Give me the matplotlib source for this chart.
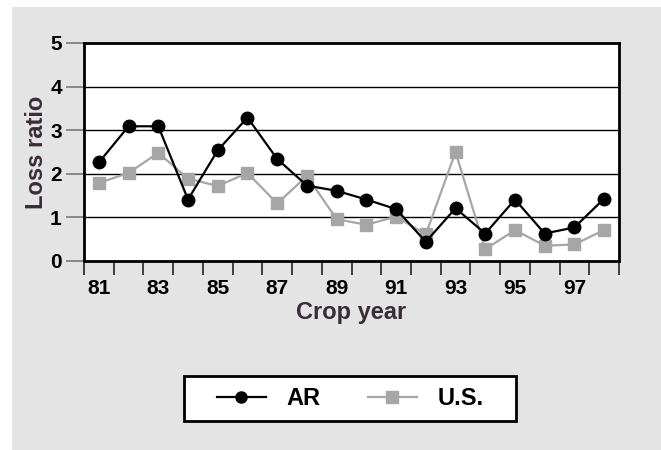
import numpy as np
import matplotlib.pyplot as plt
from matplotlib.lines import Line2D
from matplotlib.patches import Rectangle

plt.rcParams['font.family'] = ['Liberation Sans', 'DejaVu Sans']
plt.rcParams['font.weight'] = 'bold'

years = ['81', '82', '83', '84', '85', '86', '87', '88', '89',
         '90', '91', '92', '93', '94', '95', '96', '97', '98']
ar = [2.26, 3.09, 3.09, 1.41, 2.54, 3.29, 2.34, 1.73, 1.61,
      1.41, 1.19, 0.44, 1.21, 0.63, 1.41, 0.63, 0.77, 1.43]
us = [1.79, 2.02, 2.48, 1.89, 1.72, 2.02, 1.32, 1.95, 0.96,
      0.83, 1.02, 0.61, 2.50, 0.27, 0.71, 0.35, 0.38, 0.71]

label_col = '#3a2b38'
grey = '#a6a6a6'
W, H = 661, 450

fig = plt.figure(figsize=(6.61, 4.5), dpi=100, facecolor='white')

# grey panel behind everything
bg = fig.add_axes([12 / W, 0, 649 / W, 443 / H], zorder=-1)
bg.set_facecolor('#e4e4e4')
bg.set_xticks([])
bg.set_yticks([])
for s in bg.spines.values():
    s.set_visible(False)

ax = fig.add_axes([84 / W, 189 / H, 535 / W, 218 / H])
ax.set_facecolor('white')

x = np.arange(len(years))
ax.plot(x, us, color=grey, lw=1.6, marker='s', ms=9, mfc=grey, mec=grey, zorder=3)
ax.plot(x, ar, color='black', lw=1.6, marker='o', ms=9, mfc='black', mec='black', zorder=4)

ax.set_xlim(-0.5, len(years) - 0.5)
ax.set_ylim(0, 5)
ax.set_yticks(range(6))
for v in range(1, 5):
    ax.axhline(v, color='black', lw=1, zorder=1)

# category boundaries get the tick marks, odd years get the labels
ax.set_xticks(np.arange(-0.5, len(years), 1))
ax.set_xticklabels([])
ax.set_xticks(x[::2], minor=True)
ax.set_xticklabels(years[::2], minor=True)
ax.tick_params(axis='x', which='major', length=10, width=1.2, color='#222222', direction='out')
ax.tick_params(axis='x', which='minor', length=0, pad=13, labelsize=15)
ax.tick_params(axis='y', length=13, width=1.2, color='#777777', pad=3, labelsize=15)
for t in ax.get_xticklabels(minor=True) + ax.get_yticklabels():
    t.set_fontweight('bold')

for s in ax.spines.values():
    s.set_linewidth(2)
    s.set_color('black')

ax.set_xlabel('Crop year', fontsize=17, fontweight='bold', color=label_col)
ax.set_ylabel('Loss ratio', fontsize=17, fontweight='bold', color=label_col)
ax.xaxis.set_label_coords(0.5, -0.185)
ax.yaxis.set_label_coords(-0.068, 0.5)

# legend: framed box drawn separately so the padding can be set freely
fig.patches.append(Rectangle((184 / W, (H - 421) / H), 332 / W, 45 / H,
                             transform=fig.transFigure, facecolor='white',
                             edgecolor='black', lw=2, zorder=2))
handles = [Line2D([], [], color='black', lw=1.6, marker='o', ms=8),
           Line2D([], [], color=grey, lw=1.6, marker='s', ms=8)]
leg = fig.legend(handles, ['AR', 'U.S.'], loc='center', bbox_to_anchor=(350 / W, 51.5 / H),
                 ncol=2, frameon=False, prop={'weight': 'bold', 'size': 17},
                 handlelength=2.1, columnspacing=2.0, handletextpad=0.85)
leg.set_zorder(3)

fig.savefig('out.png', dpi=100, facecolor='white')
